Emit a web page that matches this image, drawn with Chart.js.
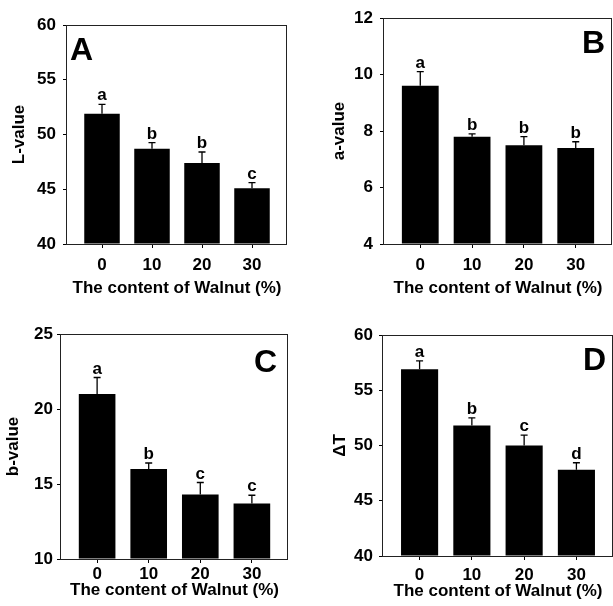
<!DOCTYPE html>
<html lang="en">
<head>
<meta charset="UTF-8">
<title>Walnut content – colour and ΔT</title>
<script src="https://cdn.jsdelivr.net/npm/chart.js"></script>
<style>
  body { margin: 0; background: #fff; }
  #wrap { position: relative; width: 613px; height: 606px; }
  canvas { position: absolute; }
</style>
</head>
<body>
<div id="wrap">
  <canvas id="chartA" width="306" height="303" style="left:0;top:0"></canvas>
  <canvas id="chartB" width="307" height="303" style="left:306px;top:0"></canvas>
  <canvas id="chartC" width="306" height="303" style="left:0;top:303px"></canvas>
  <canvas id="chartD" width="307" height="303" style="left:306px;top:303px"></canvas>
</div>
<script>
// walnut content (%) on the x axis
const contents = [0, 10, 20, 30];
const xTitle = 'The content of Walnut (%)';

// A: L-value
const lValue = [51.9, 48.7, 47.4, 45.1];
const lErr = [0.85, 0.55, 1.0, 0.5];
const lGroups = ['a', 'b', 'b', 'c'];
const lTicks = [40, 45, 50, 55, 60];

// B: a-value
const aValue = [9.6, 7.8, 7.5, 7.4];
const aErr = [0.5, 0.1, 0.3, 0.22];
const aGroups = ['a', 'b', 'b', 'b'];
const aTicks = [4, 6, 8, 10, 12];

// C: b-value
const bValue = [21.0, 16.0, 14.3, 13.7];
const bErr = [1.1, 0.4, 0.8, 0.55];
const bGroups = ['a', 'b', 'c', 'c'];
const bTicks = [10, 15, 20, 25];

// D: delta T
const dtValue = [56.9, 51.8, 50.0, 47.8];
const dtErr = [0.75, 0.7, 0.93, 0.64];
const dtGroups = ['a', 'b', 'c', 'd'];
const dtTicks = [40, 45, 50, 55, 60];

const FONT = '"Liberation Sans", Arial, sans-serif';
Chart.defaults.font.family = FONT;
Chart.defaults.font.weight = 'bold';
Chart.defaults.color = '#000';

// where each plot box sits inside its canvas (pixels)
const layoutA = { left: 67, top: 25, right: 19, bottom: 59, yTitlePad: 9.3, xTitlePad: 4.8, yTickPad: 7, xTickPad: 7, letterAlign: 'left', letterDx: 3, letterDy: 35 };
const layoutB = { left: 78, top: 18, right: 1, bottom: 59, yTitlePad: 22.8, xTitlePad: 4.8, yTickPad: 7, xTickPad: 7, letterAlign: 'right', letterDx: -7, letterDy: 35 };
const layoutC = { left: 61, top: 31, right: 18, bottom: 47, yTitlePad: 3.3, xTitlePad: 5.8, yTickPad: 4, xTickPad: 1.5, letterAlign: 'right', letterDx: -11, letterDy: 38 };
const layoutD = { left: 77, top: 32, right: 0, bottom: 50, yTitlePad: 23.8, xTitlePad: 4.8, yTickPad: 6, xTickPad: 5, letterAlign: 'right', letterDx: -7, letterDy: 35 };

function makePanel(id, values, errs, groups, yTicks, yTitle, letter, lay) {
    // error bars, group letters, frame and panel letter
    const decor = {
        id: 'decor_' + id,
        afterDatasetsDraw(chart) {
            const ctx = chart.ctx;
            const y = chart.scales.y;
            const meta = chart.getDatasetMeta(0);
            ctx.save();
            ctx.strokeStyle = '#000';
            ctx.fillStyle = '#000';
            ctx.lineWidth = 1.3;
            ctx.font = 'bold 17px ' + FONT;
            ctx.textAlign = 'center';
            ctx.textBaseline = 'alphabetic';
            meta.data.forEach((bar, i) => {
                const top = y.getPixelForValue(values[i] + errs[i]);
                ctx.beginPath();
                ctx.moveTo(bar.x, bar.y);
                ctx.lineTo(bar.x, top);
                ctx.moveTo(bar.x - 3.5, top);
                ctx.lineTo(bar.x + 3.5, top);
                ctx.stroke();
                ctx.fillText(groups[i], bar.x, top - 4);
            });
            const a = chart.chartArea;
            ctx.lineWidth = 1;
            ctx.strokeStyle = '#222';
            ctx.strokeRect(a.left - 0.5, a.top + 0.5, a.right - a.left, a.bottom - a.top);
            ctx.font = 'bold 32px ' + FONT;
            ctx.textAlign = lay.letterAlign;
            const lx = lay.letterAlign === 'left' ? a.left + lay.letterDx : a.right + lay.letterDx;
            ctx.fillText(letter, lx, a.top + lay.letterDy);
            ctx.restore();
        }
    };

    return new Chart(document.getElementById(id), {
        type: 'bar',
        data: {
            datasets: [{
                data: contents.map((c, i) => ({ x: c, y: values[i] })),
                backgroundColor: '#000',
                borderWidth: 0,
                base: yTicks[0],
                barPercentage: 0.71,
                categoryPercentage: 1.0
            }]
        },
        options: {
            responsive: false,
            animation: false,
            layout: { padding: { left: 0, top: lay.top, right: lay.right, bottom: 0 } },
            plugins: { legend: { display: false }, tooltip: { enabled: false } },
            scales: {
                x: {
                    type: 'linear',
                    min: -7,
                    max: 37,
                    offset: false,
                    afterBuildTicks: s => { s.ticks = contents.map(v => ({ value: v })); },
                    afterFit: s => { s.height = lay.bottom; },
                    grid: { offset: false, drawOnChartArea: false, drawTicks: true, tickLength: 4, color: '#000' },
                    border: { display: false },
                    ticks: { font: { size: 17, weight: 'bold' }, padding: lay.xTickPad, maxRotation: 0, color: '#000' },
                    title: { display: true, text: xTitle, font: { size: 17, weight: 'bold' }, color: '#000', padding: { top: 0, bottom: lay.xTitlePad } }
                },
                y: {
                    min: yTicks[0],
                    max: yTicks[yTicks.length - 1],
                    afterBuildTicks: s => { s.ticks = yTicks.map(v => ({ value: v })); },
                    afterFit: s => { s.width = lay.left; },
                    grid: { drawOnChartArea: false, drawTicks: true, tickLength: 4, color: '#000' },
                    border: { display: false },
                    ticks: { font: { size: 17, weight: 'bold' }, padding: lay.yTickPad, color: '#000' },
                    title: { display: true, text: yTitle, font: { size: 17, weight: 'bold' }, color: '#000', padding: { top: lay.yTitlePad, bottom: 0 } }
                }
            }
        },
        plugins: [decor]
    });
}

makePanel('chartA', lValue, lErr, lGroups, lTicks, 'L-value', 'A', layoutA);
makePanel('chartB', aValue, aErr, aGroups, aTicks, 'a-value', 'B', layoutB);
makePanel('chartC', bValue, bErr, bGroups, bTicks, 'b-value', 'C', layoutC);
makePanel('chartD', dtValue, dtErr, dtGroups, dtTicks, 'ΔT', 'D', layoutD);
</script>
</body>
</html>
